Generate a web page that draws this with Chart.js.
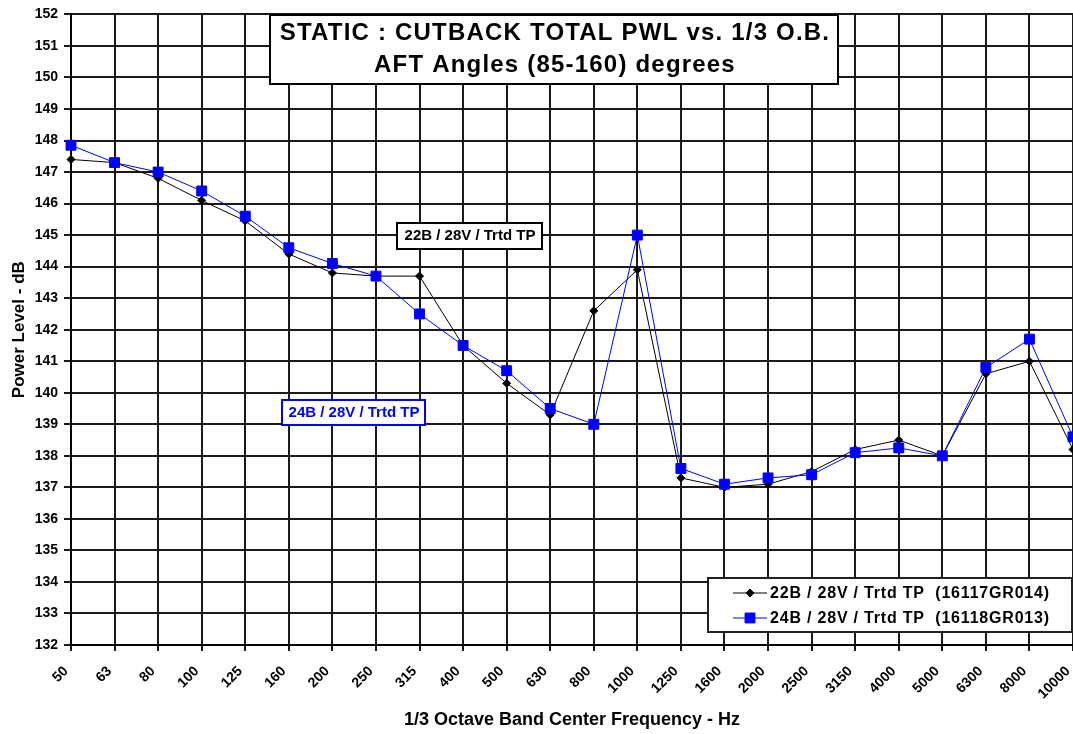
<!DOCTYPE html>
<html>
<head>
<meta charset="utf-8">
<style>
  html, body { margin: 0; padding: 0; background: #fff; }
  #wrap { width: 1073px; height: 734px; }
</style>
<script src="https://cdn.jsdelivr.net/npm/chart.js@4.4.0/dist/chart.umd.min.js"></script>
</head>
<body>
<div id="wrap"><canvas id="canvas_grafico" width="1073" height="734"></canvas></div>
<script>
// 1/3 octave band centre frequencies (Hz)
const frecuencias = ["50", "63", "80", "100", "125", "160", "200", "250", "315", "400",
  "500", "630", "800", "1000", "1250", "1600", "2000", "2500", "3150", "4000",
  "5000", "6300", "8000", "10000"];

// 22B / 28V / Trtd TP (16117GR014)
const pwl_22b = [147.4, 147.3, 146.8, 146.1, 145.45, 144.4, 143.8, 143.7, 143.7, 141.5,
  140.3, 139.3, 142.6, 143.9, 137.3, 137.0, 137.1, 137.5, 138.2, 138.5,
  138.0, 140.6, 141.0, 138.2];

// 24B / 28V / Trtd TP (16118GR013)
const pwl_24b = [147.85, 147.3, 147.0, 146.4, 145.6, 144.6, 144.1, 143.7, 142.5, 141.5,
  140.7, 139.5, 139.0, 145.0, 137.6, 137.1, 137.3, 137.4, 138.1, 138.25,
  138.0, 140.8, 141.7, 138.6];

const eje_y_min = 132;
const eje_y_max = 152;

const leyenda = [
  "22B / 28V / Trtd TP  (16117GR014)",
  "24B / 28V / Trtd TP  (16118GR013)"
];
const titulo = [
  "STATIC : CUTBACK TOTAL PWL vs. 1/3 O.B.",
  "AFT Angles (85-160) degrees"
];

const FUENTE = '"Liberation Sans", Arial, sans-serif';

function cajaTexto(ctx, x1, y1, x2, y2, borde, ancho) {
  ctx.save();
  ctx.fillStyle = "#fff";
  ctx.fillRect(x1, y1, x2 - x1, y2 - y1);
  ctx.strokeStyle = borde;
  ctx.lineWidth = ancho;
  ctx.strokeRect(x1, y1, x2 - x1, y2 - y1);
  ctx.restore();
}

/* cajas de texto, titulo y leyenda dentro del grafico */
const anotaciones = {
  id: "anotaciones",
  afterDatasetsDraw(chart) {
    const ctx = chart.ctx;
    const ds = chart.data.datasets;

    // title box
    cajaTexto(ctx, 270, 15, 838, 84, "#000", 2);
    ctx.save();
    ctx.fillStyle = "#000";
    ctx.textAlign = "center";
    ctx.textBaseline = "middle";
    ctx.font = "bold 24px " + FUENTE;
    ctx.letterSpacing = "1.2px";
    ctx.fillText(titulo[0], 555, 33);
    ctx.fillText(titulo[1], 555, 65);
    ctx.restore();

    // series labels
    cajaTexto(ctx, 397, 223, 542, 249, "#000", 2);
    cajaTexto(ctx, 282, 400, 425, 425, "#0000ff", 2);
    ctx.save();
    ctx.textAlign = "center";
    ctx.textBaseline = "middle";
    ctx.font = "bold 15px " + FUENTE;
    ctx.fillStyle = "#000";
    ctx.fillText("22B / 28V / Trtd TP", 470, 236);
    ctx.fillStyle = "#0000ff";
    ctx.fillText("24B / 28V / Trtd TP", 354, 413);
    ctx.restore();

    // legend
    cajaTexto(ctx, 708, 578, 1072, 632, "#222", 2);
    ctx.save();
    ctx.font = "bold 16px " + FUENTE;
    ctx.letterSpacing = "0.8px";
    ctx.textBaseline = "middle";
    ctx.textAlign = "left";
    [593, 618].forEach((yy, i) => {
      const d = ds[i];
      ctx.strokeStyle = d.borderColor;
      ctx.lineWidth = 1;
      ctx.beginPath();
      ctx.moveTo(733, yy);
      ctx.lineTo(767, yy);
      ctx.stroke();
      ctx.fillStyle = d.borderColor;
      Chart.helpers.drawPoint(ctx, {
        pointStyle: d.pointStyle, radius: d.pointRadius, rotation: 0, borderWidth: 1
      }, 750, yy);
      ctx.fillStyle = "#000";
      ctx.fillText(leyenda[i], 770, yy + 1);
    });
    ctx.restore();
  }
};

const config = {
  type: "line",
  data: {
    labels: frecuencias,
    datasets: [
      {
        label: leyenda[0],
        data: pwl_22b,
        borderColor: "#000",
        backgroundColor: "#000",
        borderWidth: 1,
        pointStyle: "rectRot",
        pointRadius: 4,
        pointBorderWidth: 1,
        tension: 0,
        order: 2
      },
      {
        label: leyenda[1],
        data: pwl_24b,
        borderColor: "#0000ff",
        backgroundColor: "#0000ff",
        borderWidth: 1,
        pointStyle: "rect",
        pointRadius: 7,
        pointBorderWidth: 1,
        tension: 0,
        order: 1
      }
    ]
  },
  options: {
    responsive: false,
    animation: false,
    devicePixelRatio: 1,
    layout: { autoPadding: false, padding: { top: 13, right: 0, bottom: 0, left: 0 } },
    plugins: {
      legend: { display: false },
      tooltip: { enabled: false },
      title: { display: false }
    },
    scales: {
      x: {
        offset: false,
        grid: { color: "#1a1a1a", lineWidth: 2, tickLength: 6 },
        border: { color: "#000", width: 2 },
        ticks: {
          autoSkip: false,
          minRotation: 45,
          maxRotation: 45,
          padding: 12,
          labelOffset: -5,
          color: "#000",
          font: { family: FUENTE, size: 14, weight: "bold" }
        },
        title: {
          display: true,
          text: "1/3 Octave Band Center Frequency - Hz",
          color: "#000",
          font: { family: FUENTE, size: 18, weight: "bold" },
          padding: { top: 4, bottom: 3 }
        },
        afterFit(s) {
          s.height = 89;
          s.paddingLeft = 0;
          s.paddingRight = 0;
        }
      },
      y: {
        min: eje_y_min,
        max: eje_y_max,
        grid: { color: "#1a1a1a", lineWidth: 2, tickLength: 7 },
        border: { color: "#000", width: 2 },
        ticks: {
          stepSize: 1,
          padding: 6,
          color: "#000",
          font: { family: FUENTE, size: 14, weight: "bold" }
        },
        title: {
          display: true,
          text: "Power Level - dB",
          color: "#000",
          font: { family: FUENTE, size: 17, weight: "bold" },
          padding: { top: 9, bottom: 0 }
        },
        afterFit(s) {
          s.width = 71;
        }
      }
    }
  },
  plugins: [anotaciones]
};

const myChart = new Chart(document.getElementById("canvas_grafico"), config);
</script>
</body>
</html>
